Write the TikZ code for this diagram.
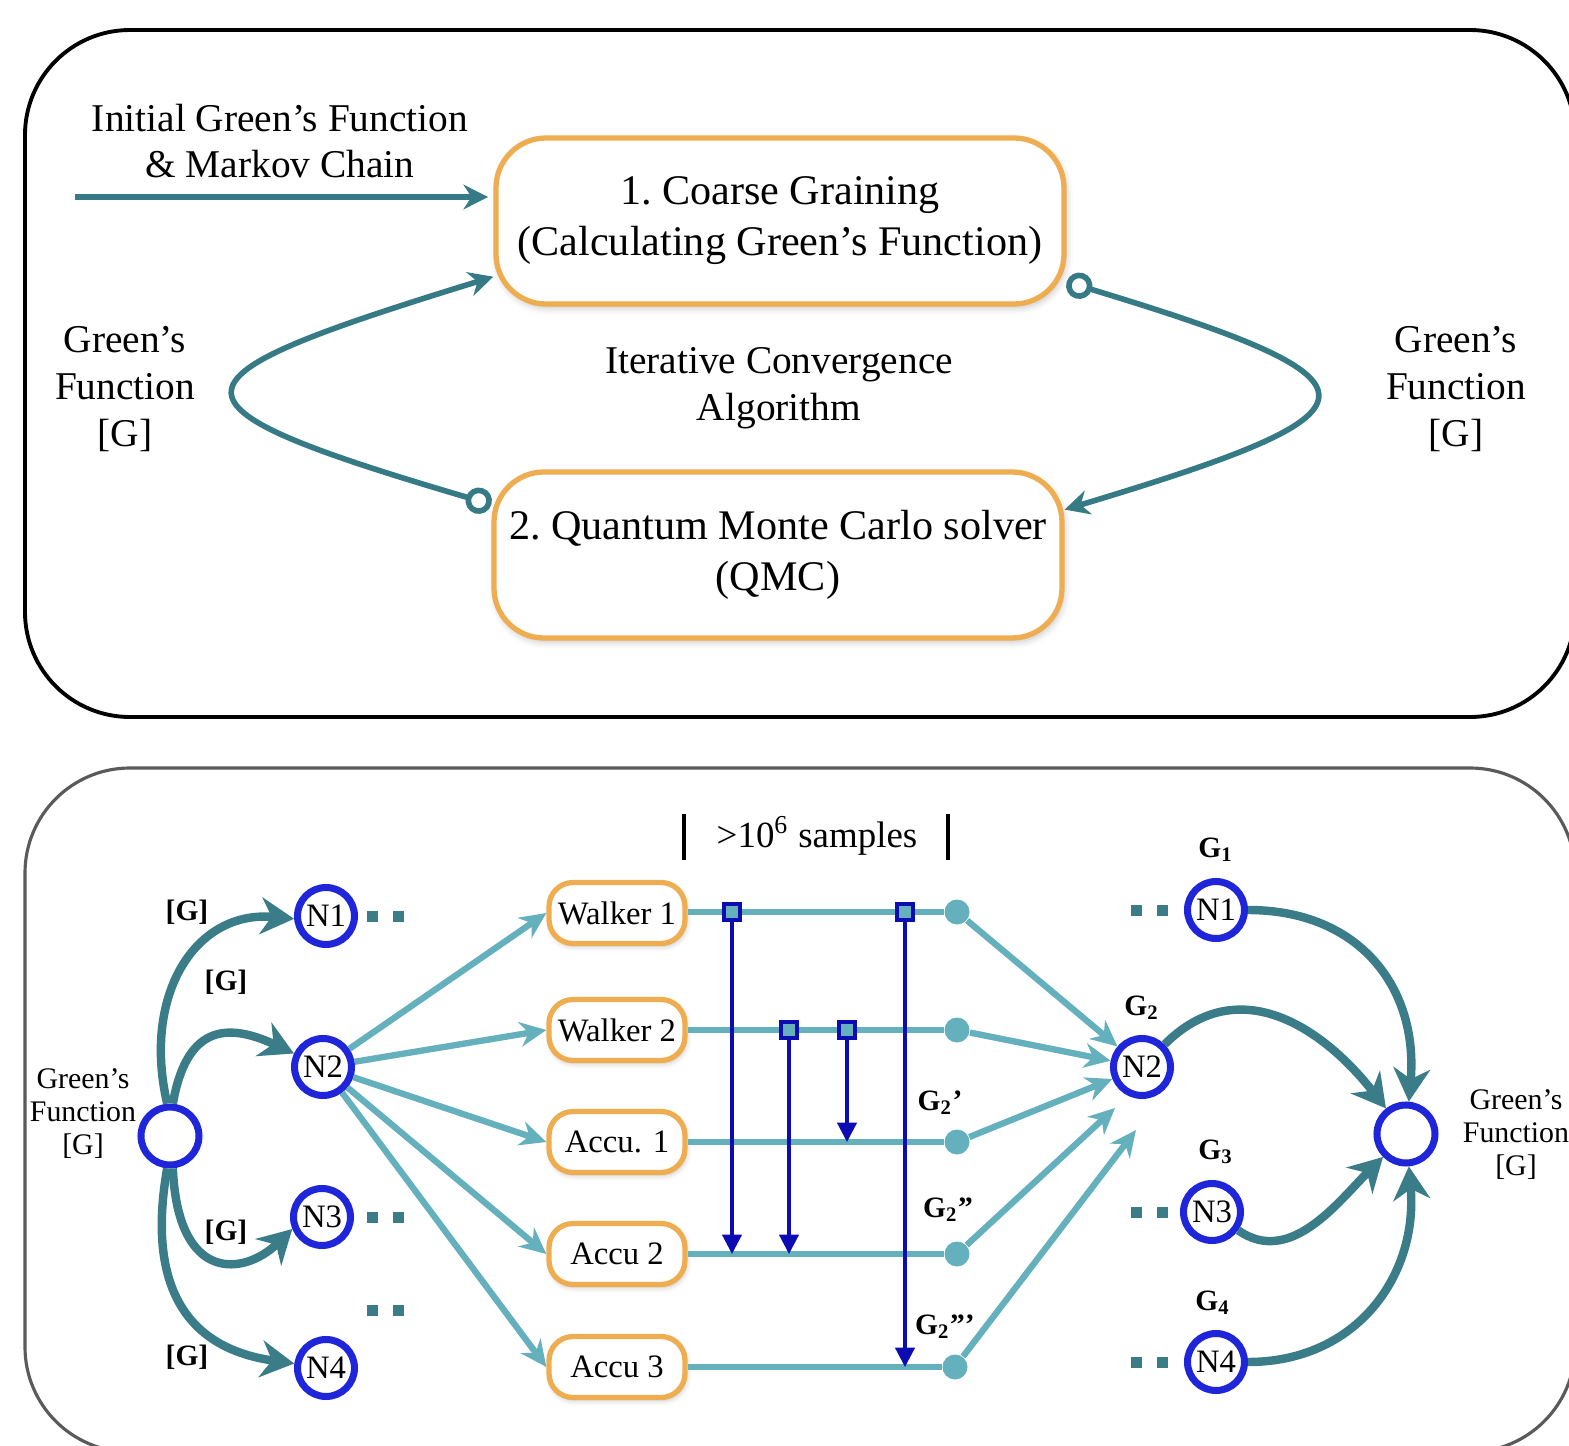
\documentclass[tikz,border=0pt]{standalone}
\usepackage{fontspec}
\setmainfont{Liberation Serif}
\usepackage{tikz}
\usetikzlibrary{arrows.meta, positioning, calc, shadows.blur}
\definecolor{iterteal}{HTML}{367A86}
\definecolor{feedteal}{HTML}{3A7D88}
\definecolor{flowteal}{HTML}{65B0BD}
\definecolor{nodeblue}{HTML}{1F26DA}
\definecolor{hopblue}{HTML}{0C0CB2}
\definecolor{stageorange}{HTML}{EFAD52}
\definecolor{framegray}{HTML}{5A5A5A}

\begin{document}
\begin{tikzpicture}[
    >=Stealth,
    stage/.style={draw=stageorange, line width=1.5pt, fill=white, rounded corners=0.5cm,
        minimum width=5.68cm, minimum height=1.66cm, align=center,
        font=\fontsize{12}{14.5}\selectfont,
        blur shadow={shadow xshift=0.5pt, shadow yshift=-1pt, shadow blur radius=2pt, shadow opacity=25}},
    walker/.style={draw=stageorange, line width=1.5pt, fill=white, rounded corners=0.24cm,
        minimum width=1.36cm, minimum height=0.61cm, inner sep=1pt,
        font=\fontsize{9.3}{10}\selectfont,
        blur shadow={shadow xshift=0.4pt, shadow yshift=-0.8pt, shadow blur radius=1.5pt, shadow opacity=25}},
    proc/.style={draw=nodeblue, circle, line width=2pt, fill=white, minimum size=0.57cm,
        inner sep=0pt, font=\fontsize{9.3}{10}\selectfont},
    hub/.style={proc, minimum size=0.58cm},
    tap/.style={circle, fill=flowteal, minimum size=0.25cm, inner sep=0pt},
    probe/.style={draw=hopblue, fill=flowteal, line width=0.9pt, minimum size=0.16cm, inner sep=0pt},
    note/.style={align=center, font=\fontsize{11.2}{13.3}\selectfont},
    small note/.style={align=center, font=\fontsize{8.5}{9.4}\selectfont},
    glabel/.style={font=\fontsize{8.4}{9}\selectfont\bfseries},
    iter/.style={draw=iterteal, line width=1.6pt},
    itertip/.style={-{Stealth[length=7pt, width=7pt]}},
    ringtip/.style={{Circle[open, length=7.5pt, width=7.5pt]}-{Stealth[length=7pt, width=7pt]}},
    feed/.style={draw=feedteal, line width=2.4pt, -{Stealth[length=9.5pt, width=10.5pt]}},
    flow/.style={draw=flowteal, line width=1.8pt},
    flowarrow/.style={flow, -{Stealth[length=7.5pt, width=7pt]}},
    hop/.style={draw=hopblue, line width=0.9pt, -{Triangle[length=5.5pt, width=5.5pt]}},
]
    \useasboundingbox (0,0) rectangle (15.69,-14.46);

    % Frames
    \draw[line width=1.1pt, rounded corners=1.05cm] (0.25,-0.30) rectangle (15.75,-7.17);
    \draw[framegray, line width=0.9pt, rounded corners=1.05cm] (0.25,-7.68) rectangle (15.75,-14.52);

    % Outer loop
    \node[stage] (cg) at (7.80,-2.21) {1.\ Coarse Graining\\(Calculating Green's Function)};
    \node[stage] (qmc) at (7.78,-5.55) {2.\ Quantum Monte Carlo solver\\(QMC)};
    \node[note] (init) at (2.80,-1.41) {Initial Green's Function\\\& Markov Chain};
    \node[note] (gfl) at (1.25,-3.89) {Green's\\Function\\{[G]}};
    \node[note] (gfr) at (14.56,-3.89) {Green's\\Function\\{[G]}};
    \node[note] (ica) at (7.79,-3.88) {Iterative Convergence\\Algorithm};
    \coordinate (src) at (0.75,-1.97);

    \draw[iter, itertip, shorten >=1.5pt] (src) -- (src -| cg.west);
    \draw[iter, ringtip] (qmc.170) .. controls (1.43,-4.02) and (1.58,-3.80) .. (cg.191);
    \draw[iter, ringtip] (cg.-12) .. controls (14.01,-3.83) and (13.93,-4.11) .. (qmc.9);

    % Sampling
    \node[font=\fontsize{10.5}{11}\selectfont] (samples) at (8.17,-8.36) {>10\textsuperscript{6} samples};
    \draw[line width=1.2pt] (6.84,-8.14) -- (6.84,-8.60);
    \draw[line width=1.2pt] (9.48,-8.14) -- (9.48,-8.60);

    \node[hub] (gin) at (1.70,-11.36) {};
    \node[small note] (gin label) at (0.83,-11.14) {Green's\\Function\\{[G]}};
    \node[proc] (a1) at (3.26,-9.16) {N1};
    \node[proc] (a2) at (3.23,-10.67) {N2};
    \node[proc] (a3) at (3.22,-12.17) {N3};
    \node[proc] (a4) at (3.26,-13.68) {N4};

    \node[walker] (w1) at (6.17,-9.13) {Walker 1};
    \node[walker] (w2) at (6.17,-10.30) {Walker 2};
    \node[walker] (ac1) at (6.17,-11.42) {Accu. 1};
    \node[walker] (ac2) at (6.17,-12.54) {Accu 2};
    \node[walker] (ac3) at (6.17,-13.67) {Accu 3};

    \node[tap] (t1) at (9.57,-9.12) {};
    \node[tap] (t2) at (9.57,-10.30) {};
    \node[tap] (t3) at (9.57,-11.42) {};
    \node[tap] (t4) at (9.57,-12.54) {};
    \node[tap] (t5) at (9.55,-13.67) {};

    \node[proc] (b1) at (12.16,-9.10) {N1};
    \node[proc] (b2) at (11.42,-10.67) {N2};
    \node[proc] (b3) at (12.12,-12.12) {N3};
    \node[proc] (b4) at (12.16,-13.62) {N4};
    \node[hub] (gout) at (14.06,-11.34) {};
    \node[small note] (gout label) at (15.16,-11.35) {Green's\\Function\\{[G]}};
    \coordinate (c4) at (11.15,-11.08);
    \coordinate (c5) at (11.36,-11.30);

    % Labels
    \node[glabel] (la1) at (1.87,-9.12) {[G]};
    \node[glabel] (la2) at (2.26,-9.82) {[G]};
    \node[glabel] (la3) at (2.26,-12.32) {[G]};
    \node[glabel] (la4) at (1.87,-13.57) {[G]};
    \node[glabel] (g1) at (12.16,-8.50) {G\textsubscript{1}};
    \node[glabel] (g2) at (11.42,-10.08) {G\textsubscript{2}};
    \node[glabel] (g3) at (12.16,-11.52) {G\textsubscript{3}};
    \node[glabel] (g4) at (12.13,-13.03) {G\textsubscript{4}};
    \node[glabel] (g21) at (9.40,-11.03) {G\textsubscript{2}'};
    \node[glabel] (g22) at (9.48,-12.10) {G\textsubscript{2}''};
    \node[glabel] (g23) at (9.45,-13.27) {G\textsubscript{2}'''};

    % Dots
    \foreach \y in {9.16, 12.17, 13.10}
        \foreach \x in {3.72, 3.98}
            \fill[feedteal] (\x-0.055,-\y-0.055) rectangle ++(0.11,0.11);
    \foreach \y in {9.10, 12.12, 13.62}
        \foreach \x in {11.36, 11.62}
            \fill[feedteal] (\x-0.055,-\y-0.055) rectangle ++(0.11,0.11);

    % Green's function to nodes
    \draw[feed] (gin.95) .. controls (1.42,-9.95) and (1.95,-9.10) .. (a1.185);
    \draw[feed] (gin.85) to[out=80, in=155, looseness=1.5] (a2);
    \draw[feed] (gin.-85) .. controls (1.78,-12.85) and (2.45,-12.75) .. (a3.202);
    \draw[feed] (gin.-95) to[out=-100, in=172, looseness=1.25] (a4);

    % Walkers and accumulators
    \draw[flowarrow] (a2) -- (w1.west);
    \draw[flowarrow] (a2) -- (w2.west);
    \draw[flowarrow] (a2) -- (ac1.west);
    \draw[flowarrow] (a2) -- (ac2.west);
    \draw[flowarrow] (a2) -- (ac3.west);
    \draw[flow] (w1.east |- t1) -- (t1);
    \draw[flow] (w2) -- (t2);
    \draw[flow] (ac1) -- (t3);
    \draw[flow] (ac2) -- (t4);
    \draw[flow] (ac3.east |- t5) -- (t5);

    \node[probe] (p1) at (7.32,-9.12) {};
    \node[probe] (p2) at (9.05,-9.12) {};
    \node[probe] (p3) at (7.89,-10.30) {};
    \node[probe] (p4) at (8.47,-10.30) {};
    \draw[hop] (p1) -- (p1 |- ac2);
    \draw[hop] (p2) -- (p2 |- ac3);
    \draw[hop] (p3) -- (p3 |- ac2);
    \draw[hop] (p4) -- (p4 |- ac1);
    \node[probe] at (p1) {};
    \node[probe] at (p2) {};
    \node[probe] at (p3) {};
    \node[probe] at (p4) {};

    % Measurements back
    \draw[flowarrow] (t1) -- (b2);
    \draw[flowarrow] (t2) -- (b2);
    \draw[flowarrow] (t3) -- (b2);
    \draw[flowarrow] (t4) -- (c4);
    \draw[flowarrow] (t5) -- (c5);

    \draw[feed] (b1) to[out=0, in=85, looseness=1.15] (gout);
    \draw[feed] (b2) to[out=45, in=128, looseness=1.15] (gout);
    \draw[feed] (b3) to[out=-35, in=225] (gout);
    \draw[feed] (b4) to[out=0, in=-85, looseness=1.1] (gout);
\end{tikzpicture}
\end{document}
